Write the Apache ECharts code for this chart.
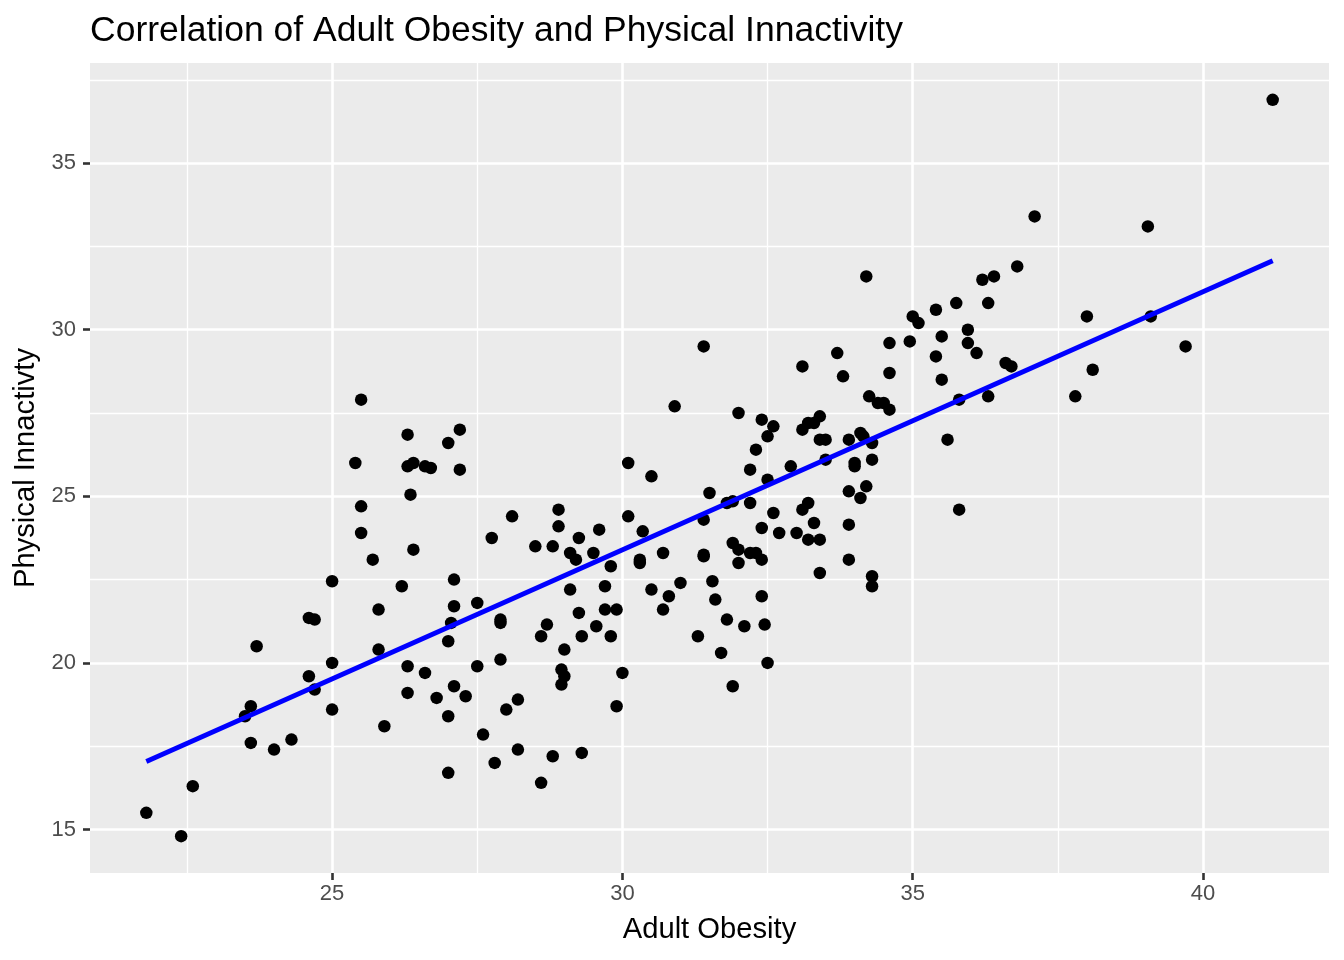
<!DOCTYPE html>
<html>
<head>
<meta charset="utf-8">
<script src="https://cdn.jsdelivr.net/npm/echarts@6/dist/echarts.min.js"></script>
<style>
  html, body { margin: 0; padding: 0; background: #ffffff; }
  #chart { width: 1344px; height: 960px; }
</style>
</head>
<body>
<div id="chart"></div>
<script>
// ---- Data ----
const obesity = [
  21.8, 22.4, 22.6, 23.5, 23.6, 23.6, 23.7, 24.0, 24.3, 24.6,
  24.7, 24.6, 24.7, 25.0, 25.0, 25.0, 25.4, 25.5, 25.5, 25.5,
  25.7, 25.8, 25.8, 25.9, 26.2, 26.3, 26.3, 26.4, 26.35, 26.4,
  26.3, 26.3, 26.6, 26.6, 26.7, 26.8, 27.0, 27.2, 27.2, 27.0,
  27.0, 27.0, 27.1, 27.1, 27.05, 27.1, 27.3, 27.5, 27.5, 27.6,
  27.75, 27.8, 27.9, 27.9, 27.9, 28.0, 28.1, 28.2, 28.2, 28.5,
  28.6, 28.6, 28.7, 28.8, 28.8, 28.9, 28.9, 28.95, 29.0, 28.95,
  29.0, 29.1, 29.1, 29.2, 29.25, 29.25, 29.3, 29.3, 29.5, 29.55,
  29.6, 29.7, 29.7, 29.8, 29.8, 29.9, 29.9, 30.0, 30.1, 30.1,
  30.3, 30.3, 30.35, 30.5, 30.5, 30.7, 30.7, 30.8, 30.9, 31.0,
  31.3, 31.4, 31.4, 31.4, 31.4, 31.5, 31.55, 31.6, 31.7, 31.8,
  31.8, 31.9, 31.9, 31.9, 32.0, 32.0, 32.0, 32.1, 32.2, 32.2,
  32.2, 32.3, 32.3, 32.4, 32.4, 32.4, 32.4, 32.45, 32.5, 32.5,
  32.5, 32.6, 32.6, 32.7, 32.9, 33.0, 33.1, 33.1, 33.1, 33.2,
  33.2, 33.2, 33.3, 33.3, 33.4, 33.4, 33.4, 33.4, 33.5, 33.5,
  33.7, 33.8, 33.9, 33.9, 33.9, 33.9, 34.0, 34.0, 34.1, 34.15,
  34.1, 34.2, 34.2, 34.25, 34.3, 34.3, 34.3, 34.3, 34.4, 34.5,
  34.6, 34.6, 34.6, 34.95, 35.0, 35.1, 35.4, 35.4, 35.5, 35.5,
  35.6, 35.75, 35.8, 35.8, 35.95, 35.95, 36.1, 36.2, 36.3, 36.3,
  36.4, 36.6, 36.7, 36.8, 37.1, 37.8, 38.0, 38.1, 39.05, 39.1,
  39.7, 41.2
];
const inactivity = [
  15.5, 14.8, 16.3, 18.4, 18.7, 17.6, 20.5, 17.4, 17.7, 21.35,
  21.3, 19.6, 19.2, 20.0, 18.6, 22.45, 26.0, 27.9, 24.7, 23.9,
  23.1, 21.6, 20.4, 18.1, 22.3, 26.85, 25.9, 26.0, 25.05, 23.4,
  19.9, 19.1, 19.7, 25.9, 25.85, 18.95, 26.6, 27.0, 25.8, 20.65,
  18.4, 16.7, 22.5, 21.7, 21.2, 19.3, 19.0, 21.8, 19.9, 17.85,
  23.75, 17.0, 21.3, 21.2, 20.1, 18.6, 24.4, 18.9, 17.4, 23.5,
  20.8, 16.4, 21.15, 23.5, 17.2, 24.6, 24.1, 19.8, 19.6, 19.35,
  20.4, 23.3, 22.2, 23.1, 23.75, 21.5, 20.8, 17.3, 23.3, 21.1,
  24.0, 22.3, 21.6, 22.9, 20.8, 21.6, 18.7, 19.7, 26.0, 24.4,
  23.1, 23.0, 23.95, 25.6, 22.2, 23.3, 21.6, 22.0, 27.7, 22.4,
  20.8, 29.5, 24.3, 23.25, 23.2, 25.1, 22.45, 21.9, 20.3, 21.3,
  24.8, 24.85, 23.6, 19.3, 27.5, 23.4, 23.0, 21.1, 25.8, 24.8,
  23.3, 26.4, 23.3, 27.3, 24.05, 23.1, 22.0, 21.15, 26.8, 25.5,
  20.0, 27.1, 24.5, 23.9, 25.9, 23.9, 28.9, 27.0, 24.6, 27.2,
  24.8, 23.7, 27.2, 24.2, 27.4, 26.7, 23.7, 22.7, 26.7, 26.1,
  29.3, 28.6, 26.7, 25.15, 24.15, 23.1, 26.0, 25.9, 26.9, 26.8,
  24.95, 31.6, 25.3, 28.0, 26.6, 26.1, 22.6, 22.3, 27.8, 27.8,
  29.6, 28.7, 27.6, 29.65, 30.4, 30.2, 30.6, 29.2, 29.8, 28.5,
  26.7, 30.8, 27.9, 24.6, 30.0, 29.6, 29.3, 31.5, 30.8, 28.0,
  31.6, 29.0, 28.9, 31.9, 33.4, 28.0, 30.4, 28.8, 33.1, 30.4,
  29.5, 36.9
];
// fitted (lm) line end points
const fitX = [21.8, 41.2];
const fitY = [17.04, 32.07];

// tick values
const xMajor = [25, 30, 35, 40];
const xMinor = [22.5, 27.5, 32.5, 37.5];
const yMajor = [15, 20, 25, 30, 35];
const yMinor = [17.5, 22.5, 27.5, 32.5, 37.5];

const titleText = 'Correlation of Adult Obesity and Physical Innactivity';
const xName = 'Adult Obesity';
const yName = 'Physical Innactivty';

// ---- build ----
const points = obesity.map((v, i) => [v, inactivity[i]]);
const fitData = fitX.map((v, i) => [v, fitY[i]]);

function expand(arr) {
  const mn = Math.min(...arr), mx = Math.max(...arr);
  const pad = (mx - mn) * 0.05;
  return [mn - pad, mx + pad];
}
const xr = expand(obesity);
const yr = expand(inactivity);

const FONT = '"Liberation Sans", Arial, Helvetica, sans-serif';

const gridLines = [];
xMinor.forEach(v => gridLines.push({ xAxis: v, lineStyle: { width: 1.3 } }));
yMinor.forEach(v => gridLines.push({ yAxis: v, lineStyle: { width: 1.3 } }));
xMajor.forEach(v => gridLines.push({ xAxis: v, lineStyle: { width: 2.6 } }));
yMajor.forEach(v => gridLines.push({ yAxis: v, lineStyle: { width: 2.6 } }));

const chart = echarts.init(document.getElementById('chart'), null, { renderer: 'canvas' });
chart.setOption({
  animation: false,
  backgroundColor: '#ffffff',
  textStyle: { fontFamily: FONT },
  title: {
    text: titleText,
    left: 90,
    top: 13,
    padding: 0,
    textStyle: { fontFamily: FONT, fontSize: 35.5, fontWeight: 'normal', color: '#000000' }
  },
  grid: {
    left: 90, right: 15, top: 63, bottom: 87,
    show: true, backgroundColor: '#EBEBEB', borderWidth: 0
  },
  xAxis: {
    type: 'value',
    min: xr[0], max: xr[1],
    name: xName,
    nameLocation: 'middle',
    nameGap: 42,
    nameTextStyle: { fontFamily: FONT, fontSize: 29.2, color: '#000000' },
    axisLine: { show: false },
    axisTick: { show: true, length: 7, customValues: xMajor, lineStyle: { color: '#333333', width: 2.6 } },
    axisLabel: { show: true, customValues: xMajor, margin: 10, fontSize: 22, color: '#4D4D4D', fontFamily: FONT },
    splitLine: { show: false },
    minorSplitLine: { show: false }
  },
  yAxis: {
    type: 'value',
    min: yr[0], max: yr[1],
    name: yName,
    nameLocation: 'middle',
    nameGap: 46,
    nameTextStyle: { fontFamily: FONT, fontSize: 29.2, color: '#000000' },
    axisLine: { show: false },
    axisTick: { show: true, length: 7, customValues: yMajor, lineStyle: { color: '#333333', width: 2.6 } },
    axisLabel: { show: true, customValues: yMajor, margin: 14, fontSize: 22, color: '#4D4D4D', fontFamily: FONT },
    splitLine: { show: false },
    minorSplitLine: { show: false }
  },
  series: [
    {
      type: 'scatter',
      data: [],
      z: 0,
      silent: true,
      markLine: {
        z: 0,
        silent: true,
        symbol: ['none', 'none'],
        label: { show: false },
        lineStyle: { color: '#FFFFFF', type: 'solid' },
        emphasis: { disabled: true },
        data: gridLines
      }
    },
    {
      type: 'scatter',
      data: points,
      symbol: 'circle',
      symbolSize: 12.5,
      itemStyle: { color: '#000000', opacity: 1 },
      z: 3
    },
    {
      type: 'line',
      data: fitData,
      symbol: 'none',
      lineStyle: { color: '#0000FF', width: 4.8, cap: 'butt' },
      z: 4
    }
  ]
});
</script>
</body>
</html>
